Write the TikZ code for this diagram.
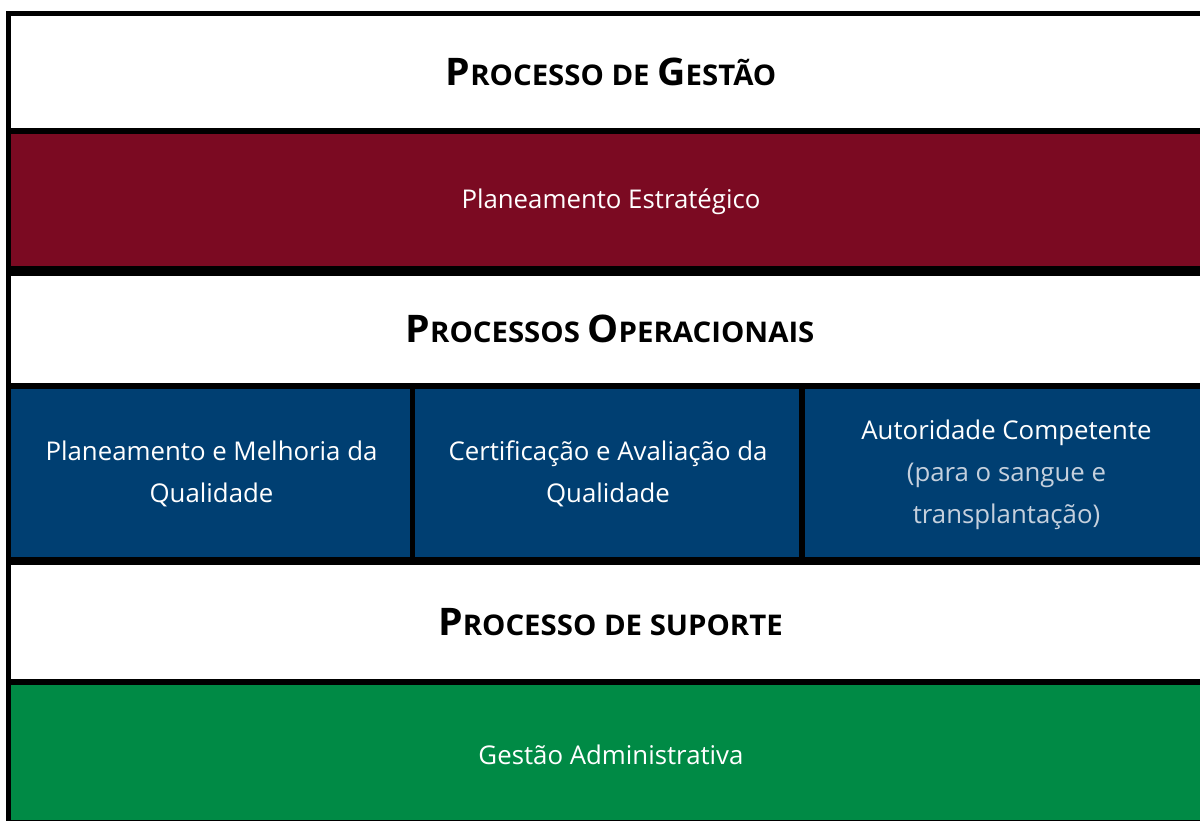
\documentclass[tikz,border=0pt]{standalone}
\usepackage{graphicx}
\usepackage{fontspec}
\setmainfont{Open Sans}
\definecolor{bandred}{HTML}{7B0A22}
\definecolor{bandblue}{HTML}{003F72}
\definecolor{bandgreen}{HTML}{008A45}
\definecolor{softtext}{HTML}{C5D0DD}
\newcommand{\capbig}[1]{{\fontsize{38}{40}\selectfont #1}}
\newcommand{\capsmall}[1]{{\fontsize{28.5}{32}\selectfont #1}}
\newcommand{\headline}[1]{\scalebox{1.03}[1]{#1}}
\tikzset{
  band/.style={anchor=north west, inner sep=0pt, outer sep=0pt, draw=none},
  headtext/.style={font=\bfseries, text=black, anchor=base},
  bodytext/.style={font=\fontsize{25.8}{42}\selectfont, text=white, align=center}
}
\begin{document}
\begin{tikzpicture}[x=1pt,y=-1pt]
\useasboundingbox (0,0) rectangle (1200,820);
\clip (0,0) rectangle (1200,820);
% black frame / separators background
\fill[black] (6,11) rectangle (1215,830);
% bands
\node[band, fill=white, minimum width=1200pt, minimum height=112pt] (gestao) at (11,16) {};
\node[headtext] at ([yshift=-13.5pt]gestao.center) {\headline{\capbig{P}\capsmall{ROCESSO DE }\capbig{G}\capsmall{ESTÃO}}};
\node[band, fill=bandred, minimum width=1200pt, minimum height=132pt] (plan) at (11,134) {};
\node[bodytext] at ([yshift=-2pt]plan.center) {Planeamento Estratégico};
\node[band, fill=white, minimum width=1200pt, minimum height=107pt] (oper) at (11,276) {};
\node[headtext] at ([xshift=-1pt,yshift=-12.5pt]oper.center) {\headline{\capbig{P}\capsmall{ROCESSOS }\capbig{O}\capsmall{PERACIONAIS}}};
\node[band, fill=bandblue, minimum width=399pt, minimum height=168pt] (pmq) at (11,389) {};
\node[band, fill=bandblue, minimum width=384pt, minimum height=168pt] (caq) at (415,389) {};
\node[band, fill=bandblue, minimum width=410pt, minimum height=168pt] (aut) at (805,389) {};
\node[bodytext] at ([xshift=1pt,yshift=-1pt]pmq.center) {Planeamento e Melhoria da\\Qualidade};
\node[bodytext] at ([xshift=1pt,yshift=-1pt]caq.center) {Certificação e Avaliação da\\Qualidade};
\node[bodytext] at ([xshift=-3.5pt,yshift=-1.5pt]aut.center) {Autoridade Competente\\{\color{softtext}(para o sangue e}\\{\color{softtext}transplantação)}};
\node[band, fill=white, minimum width=1200pt, minimum height=114pt] (sup) at (11,565) {};
\node[headtext] at ([xshift=-0.5pt,yshift=-13.5pt]sup.center) {\headline{\capbig{P}\capsmall{ROCESSO DE SUPORTE}}};
\node[band, fill=bandgreen, minimum width=1200pt, minimum height=135pt] (adm) at (11,685) {};
\node[bodytext] at ([yshift=-2pt]adm.center) {Gestão Administrativa};
\end{tikzpicture}
\end{document}
